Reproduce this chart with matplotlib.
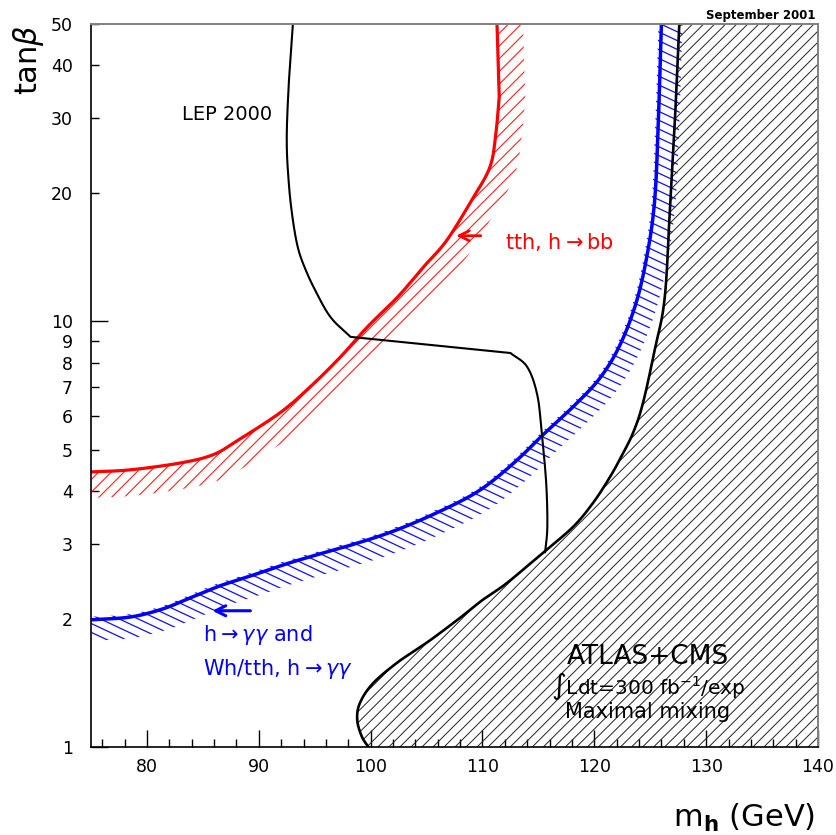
import numpy as np
import matplotlib
matplotlib.use("Agg")
import matplotlib.pyplot as plt
from matplotlib.collections import LineCollection
from matplotlib.patches import Polygon
from matplotlib.ticker import FixedLocator, MultipleLocator, FuncFormatter

# contours: m_h (GeV) vs tan(beta)
# tth, h->bb reach (red), split at the corner where it turns vertical
red_mh = [75.0, 78.5, 83.0, 85.9, 88.05, 91.9, 94.6, 97.3, 99.7, 102.4, 104.7, 106.8,
          109.05, 110.67, 111.2, 111.5]
red_tb = [4.43, 4.48, 4.65, 4.86, 5.24, 6.10, 7.02, 8.25, 9.70, 11.4, 13.4, 15.5,
          19.3, 23.07, 27.7, 33.7]
red_top_mh = [111.5, 111.3]
red_top_tb = [33.7, 50.0]

# h->gamma gamma and Wh/tth, h->gamma gamma reach (blue)
blue_mh = [75.0, 78.5, 81.4, 83.85, 86.5, 89.2, 92.2, 95.2, 98.2, 101.1, 103.5, 105.9,
           108.3, 110.05, 111.8, 113.6, 115.3, 118.1, 120.5, 122.3, 123.8, 124.8, 125.4,
           125.7, 126.0]
blue_tb = [1.99, 2.02, 2.11, 2.24, 2.39, 2.52, 2.68, 2.83, 2.98, 3.15, 3.33, 3.55,
           3.81, 4.06, 4.41, 4.86, 5.38, 6.30, 7.36, 8.81, 11.2, 14.7, 19.3,
           28.2, 50.0]

# theoretically excluded region boundary (black, hatched to the right)
theo_mh = [127.6, 127.3, 126.8, 126.3, 125.4, 124.35, 123.5, 122.5, 121.4, 119.9, 118.1,
           115.4, 112.2, 110.05, 108.3, 105.3, 102.4, 100.2, 99.05, 98.8, 99.2, 99.8]
theo_tb = [50.0, 33.2, 19.3, 11.4, 8.57, 6.43, 5.50, 4.86, 4.31, 3.75, 3.29,
           2.86, 2.43, 2.22, 2.04, 1.78, 1.58, 1.41, 1.27, 1.16, 1.06, 1.0]

# LEP 2000 exclusion, three pieces joined at its two corners
lep_a_mh = [93.05, 92.7, 92.5, 92.7, 93.05, 93.5, 94.1, 95.0, 96.4, 98.2]
lep_a_tb = [50.0, 36.9, 26.7, 20.9, 17.3, 14.9, 13.4, 11.9, 10.25, 9.2]
lep_b_mh = [98.2, 112.5]
lep_b_tb = [9.2, 8.43]
lep_c_mh = [112.5, 114.0, 114.9, 115.3, 115.7, 115.8, 115.6]
lep_c_tb = [8.43, 7.82, 6.72, 5.47, 4.17, 3.29, 2.87]

x_ticks_major = 10
x_ticks_minor = 2
y_major = [1, 10]
y_minor = [2, 3, 4, 5, 6, 7, 8, 9, 20, 30, 40, 50]


def smooth(xs, ys, n=14):
    # Catmull-Rom through the read points, done in (x, log y)
    p = np.column_stack([xs, np.log10(ys)])
    if len(p) < 3:
        return np.asarray(xs, float), np.asarray(ys, float)
    p = np.vstack([2 * p[0] - p[1], p, 2 * p[-1] - p[-2]])
    t = np.linspace(0, 1, n, endpoint=False)[:, None]
    out = []
    for i in range(1, len(p) - 2):
        p0, p1, p2, p3 = p[i - 1], p[i], p[i + 1], p[i + 2]
        out.append(0.5 * (2 * p1 + (p2 - p0) * t + (2 * p0 - 5 * p1 + 4 * p2 - p3) * t ** 2
                          + (3 * p1 - p0 - 3 * p2 + p3) * t ** 3))
    out.append(p[-2][None])
    out = np.vstack(out)
    return out[:, 0], 10 ** out[:, 1]


def band(ax, xs, ys, width, inner=0.0):
    # strip of given pixel width on the right-hand side of the curve
    pts = ax.transData.transform(np.column_stack([xs, ys]))
    d = np.gradient(pts, axis=0)
    d /= np.hypot(d[:, 0], d[:, 1])[:, None]
    nrm = np.column_stack([d[:, 1], -d[:, 0]])
    a = pts - inner * nrm
    b = pts + width * nrm
    return ax.transData.inverted().transform(np.vstack([a, b[::-1]]))


def hatch(ax, poly, angle, step, color, lw):
    patch = Polygon(poly, closed=True, transform=ax.transData, fc="none", ec="none")
    W, H = ax.bbox.width, ax.bbox.height
    a = np.radians(angle)
    d = np.array([np.cos(a), np.sin(a)])
    n = np.array([-np.sin(a), np.cos(a)])
    corners = np.array([[0, 0], [W, 0], [0, H], [W, H]])
    c = corners @ n
    C = np.array([W / 2, H / 2])
    L = np.hypot(W, H)
    segs = []
    for s in np.arange(np.floor(c.min() / step) * step, c.max() + step, step):
        base = C + (s - C @ n) * n
        p1, p2 = (base - L * d) / [W, H], (base + L * d) / [W, H]
        segs.append([p1, p2])
    lc = LineCollection(segs, transform=ax.transAxes, colors=color, linewidths=lw)
    lc.set_clip_path(patch)
    lc.set_clip_box(ax.bbox)
    ax.add_collection(lc, autolim=False)


fig = plt.figure(figsize=(8.36, 8.35), dpi=100)
ax = fig.add_axes([91 / 836, 1 - 747 / 835, 727 / 836, 723 / 835])
ax.set_yscale("log")
ax.set_xlim(75, 140)
ax.set_ylim(1, 50)

rx1, ry1 = smooth(red_mh, red_tb)
rx = np.concatenate([rx1, red_top_mh[1:]])
ry = np.concatenate([ry1, red_top_tb[1:]])
bx, by = smooth(blue_mh, blue_tb)
tx, ty = smooth(theo_mh, theo_tb)
la = smooth(lep_a_mh, lep_a_tb)
lc_ = smooth(lep_c_mh, lep_c_tb)
lx = np.concatenate([la[0], lep_c_mh[:1], lc_[0]])
ly = np.concatenate([la[1], lep_c_tb[:1], lc_[1]])

# hatched sides
hatch(ax, band(ax, rx, ry, 26), 45, 9.0, "#ff2020", 0.8)
hatch(ax, band(ax, bx, by, 21, inner=3), -25, 8.0, "#1010ff", 0.9)
theo_poly = np.vstack([np.column_stack([tx, ty]), [[140, 1], [140, 50]]])
hatch(ax, theo_poly, 45, 7.8, "#222222", 0.7)

ax.plot(rx, ry, color="#ff0000", lw=2.3, solid_capstyle="butt")
ax.plot(bx, by, color="#0000ff", lw=2.5, solid_capstyle="butt")
ax.plot(tx, ty, color="black", lw=1.9)
ax.plot(lx, ly, color="black", lw=1.5)

# labels on the plot
ax.text(83.1, 30.7, "LEP 2000", fontsize=14, ha="left", va="center")
ax.annotate("", xy=(107.4, 15.9), xytext=(110.1, 15.9),
            arrowprops=dict(arrowstyle="->", color="red", lw=2, mutation_scale=18))
ax.text(112.0, 15.35, r"tth, h$\rightarrow$bb", color="red", fontsize=15,
        ha="left", va="center")
ax.annotate("", xy=(85.6, 2.09), xytext=(89.5, 2.09),
            arrowprops=dict(arrowstyle="->", color="blue", lw=2.2, mutation_scale=18))
ax.text(85.0, 1.835, r"h$\rightarrow\gamma\gamma$ and", color="blue", fontsize=15,
        ha="left", va="center")
ax.text(85.0, 1.526, r"Wh/tth, h$\rightarrow\gamma\gamma$", color="blue", fontsize=15,
        ha="left", va="center")
ax.text(124.8, 1.625, "ATLAS+CMS", fontsize=19, ha="center", va="center")
ax.text(124.8, 1.39, "∫Ldt=300 fb$^{-1}$/exp", fontsize=14.5, ha="center", va="center")
ax.text(124.8, 1.21, "Maximal mixing", fontsize=15, ha="center", va="center")

# axes
ax.xaxis.set_major_locator(MultipleLocator(x_ticks_major))
ax.xaxis.set_minor_locator(MultipleLocator(x_ticks_minor))
ax.yaxis.set_major_locator(FixedLocator(y_major))
ax.yaxis.set_minor_locator(FixedLocator(y_minor))
fmt = FuncFormatter(lambda v, p: f"{v:g}")
ax.yaxis.set_major_formatter(fmt)
ax.yaxis.set_minor_formatter(fmt)
ax.tick_params(which="both", direction="in", top=False, right=False, labelsize=12.5)
ax.tick_params(which="major", length=12, width=1.0)
ax.tick_params(which="minor", length=6, width=1.0)
ax.tick_params(axis="y", which="both", pad=13)
ax.tick_params(axis="x", which="both", pad=8)
for side in ["left", "bottom"]:
    ax.spines[side].set_linewidth(1.2)
for side in ["top", "right"]:
    ax.spines[side].set_color("#808080")
    ax.spines[side].set_linewidth(1.4)

fig.text(29 / 836, 1 - 24 / 835, r"tan$\beta$", rotation=90, fontsize=22, ha="center", va="top")
fig.text(815 / 836, 1 - 818 / 835, r"m$_{\mathbf{h}}$ (GeV)", fontsize=22, ha="right", va="center")
fig.text(815 / 836, 1 - 15 / 835, "September 2001", fontsize=8.5, fontweight="bold",
         ha="right", va="center")

fig.savefig("out.png", dpi=100)
